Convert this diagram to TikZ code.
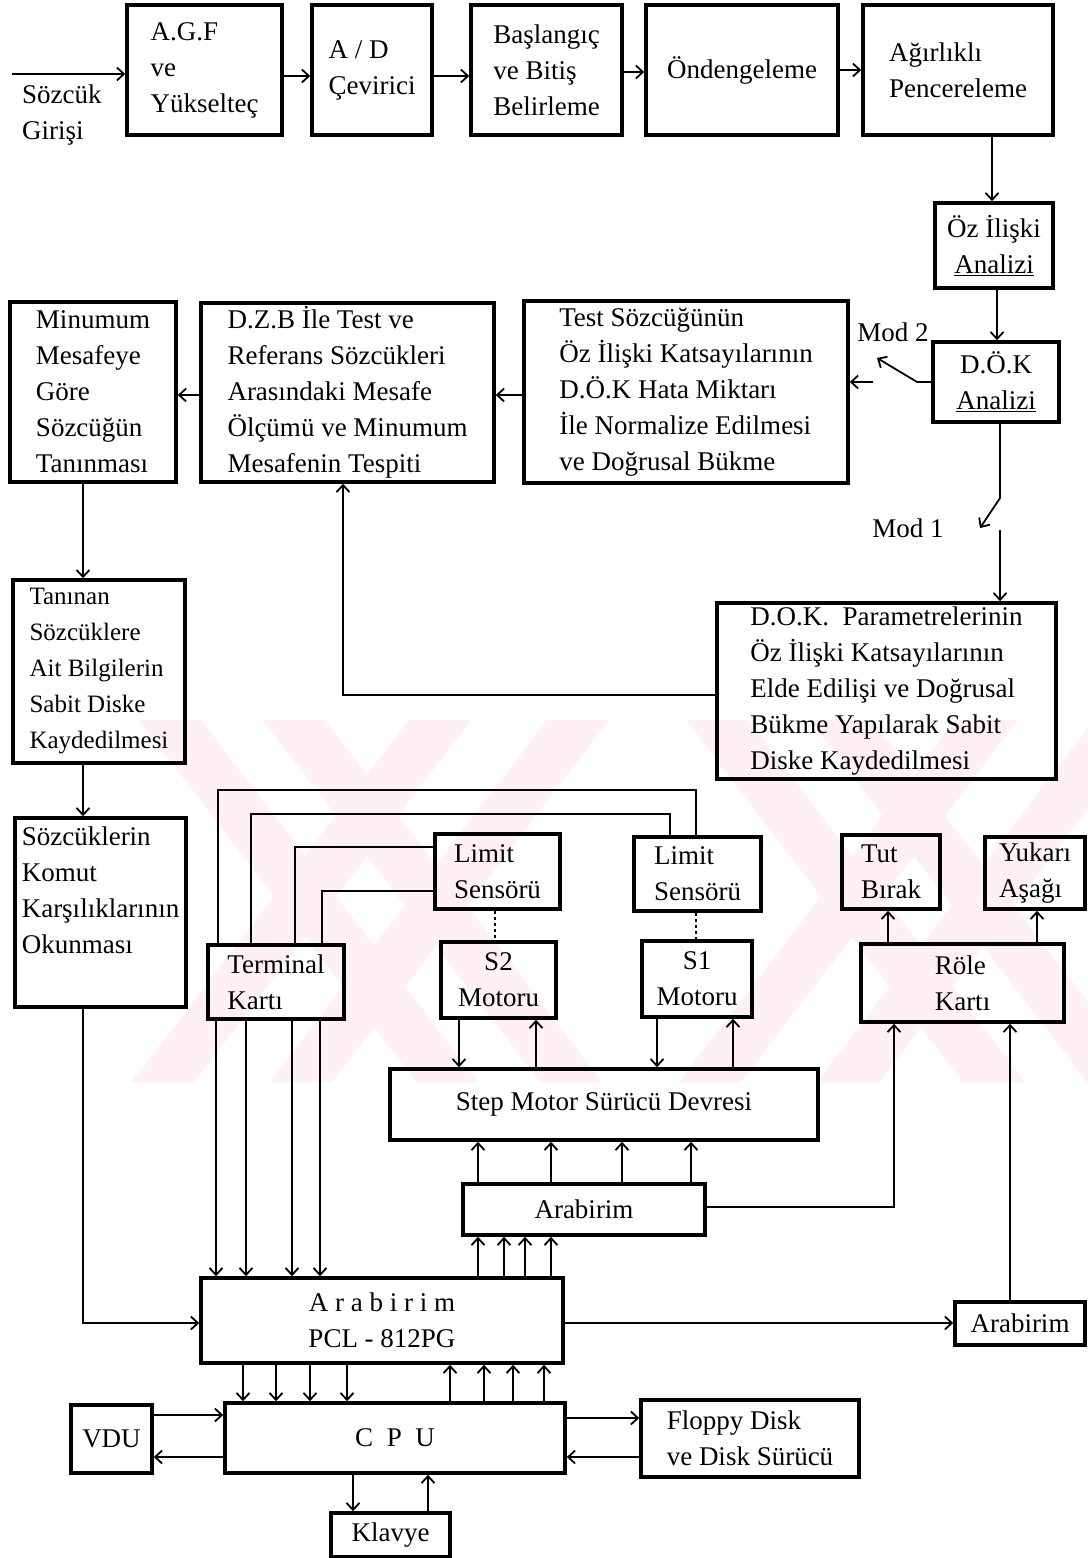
\documentclass[tikz,border=0pt]{standalone}
\usepackage{fontspec}
\setmainfont{Liberation Serif}
\usepackage{xcolor}
\usepackage{tikz}
\usetikzlibrary{arrows.meta}
\definecolor{filigran}{RGB}{254,240,243}

\begin{document}
\begin{tikzpicture}[x=1pt, y=-1pt, >={Straight Barb[length=7pt,width=13pt]},
    kutu/.style={draw, line width=3.6pt, inner sep=2pt, align=left, font=\fontsize{27}{36}\selectfont},
    yazi/.style={inner sep=0pt, align=left, font=\fontsize{27}{36}\selectfont},
    hat/.style={line width=1.8pt},
    ok/.style={hat, ->}]
    \useasboundingbox (0,0) rectangle (1087,1558);

    % 0. Filigran
    \foreach \a in {139,263,686,810}
        \fill[filigran] (\a,720) -- ++(62,0) -- ++(277,362) -- ++(-62,0) -- cycle;
    \foreach \b in {409,547,956,1094}
        \fill[filigran] (\b,720) -- ++(62,0) -- ++(-277,362) -- ++(-62,0) -- cycle;

    % 1. Ses isleme zinciri
    \node[kutu, minimum width=155, minimum height=130] (agf) at (204.5,70) {A.G.F\\ve\\Yükselteç};
    \node[kutu, minimum width=120, minimum height=130] (ad) at (372,70) {A / D\\Çevirici};
    \node[kutu, minimum width=151, minimum height=130] (basla) at (546.5,70) {Başlangıç\\ve Bitiş\\Belirleme};
    \node[kutu, minimum width=192, minimum height=130] (onden) at (742,70) {Öndengeleme};
    \node[kutu, minimum width=190, minimum height=130] (agirlik) at (958,70) {Ağırlıklı\\Pencereleme};
    \node[yazi, anchor=west] (girdi) at (22,115) {Sözcük\\Girişi};
    \coordinate (giris) at (12,74);

    \node[kutu, align=center, minimum width=118, minimum height=85] (oziliski) at (994,245.5) {Öz İlişki\\\underline{Analizi}};
    \node[kutu, align=center, minimum width=126, minimum height=80] (dok) at (996,382) {D.Ö.K\\\underline{Analizi}};
    \node[kutu, minimum width=324, minimum height=182] (test) at (686,392) {Test Sözcüğünün\\Öz İlişki Katsayılarının\\D.Ö.K Hata Miktarı\\İle Normalize Edilmesi\\ve Doğrusal Bükme};
    \node[kutu, minimum width=293, minimum height=179] (dzb) at (347.5,392.5) {D.Z.B İle Test ve\\Referans Sözcükleri\\Arasındaki Mesafe\\Ölçümü ve Minumum\\Mesafenin Tespiti};
    \node[kutu, minimum width=166, minimum height=180] (minmes) at (93,392) {Minumum\\Mesafeye\\Göre\\Sözcüğün\\Tanınması};
    \node[kutu, minimum width=339, minimum height=176] (param) at (886.5,691) {D.O.K. \ Parametrelerinin\\Öz İlişki Katsayılarının\\Elde Edilişi ve Doğrusal\\Bükme Yapılarak Sabit\\Diske Kaydedilmesi};
    \node[kutu, font=\fontsize{25}{36}\selectfont, minimum width=172, minimum height=183] (tanin) at (99,671.5) {Tanınan\\Sözcüklere\\Ait Bilgilerin\\Sabit Diske\\Kaydedilmesi};
    \node[kutu, minimum width=171, minimum height=189] (sozkomut) at (100.5,912.5) {Sözcüklerin\\Komut\\Karşılıklarının\\Okunması\\[8pt]};
    \node[yazi] (mod2) at (893,332) {Mod 2};
    \node[yazi] (mod1) at (908,528) {Mod 1};

    \draw[ok] (giris) -- (agf.west |- giris);
    \draw[ok] (agf.east |- 0,76) -- (ad.west |- 0,76);
    \draw[ok] (ad.east |- 0,76) -- (basla.west |- 0,76);
    \draw[ok] (basla.east |- 0,72) -- (onden.west |- 0,72);
    \draw[ok] (onden.east |- 0,70) -- (agirlik.west |- 0,70);
    \draw[ok] (992,0 |- agirlik.south) -- (992,0 |- oziliski.north);
    \draw[ok] (997,0 |- oziliski.south) -- (997,0 |- dok.north);

    % 2. Mod anahtarlari
    \draw[ok] (dok.west |- 0,382) -- (917,382) -- (877,358);
    \coordinate (m2) at (873,382);
    \draw[ok] (m2) -- (test.east |- m2);
    \draw[ok] (1000,0 |- dok.south) -- (1000,498) -- (980,528);
    \coordinate (m1) at (1000,530);
    \draw[ok] (m1) -- (param.north -| m1);
    \draw[ok] (param.west |- 0,695) -- (343,695) -- (343,0 |- dzb.south);
    \draw[ok] (test.west |- 0,395) -- (dzb.east |- 0,395);
    \draw[ok] (dzb.west |- 0,395) -- (minmes.east |- 0,395);
    \draw[ok] (83,0 |- minmes.south) -- (83,0 |- tanin.north);
    \draw[ok] (83,0 |- tanin.south) -- (83,0 |- sozkomut.north);

    % 3. Donanim
    \node[kutu, minimum width=136, minimum height=74] (terminal) at (276,982) {Terminal\\Kartı};
    \node[kutu, minimum width=125, minimum height=75] (limit2) at (497.5,871.5) {Limit\\Sensörü};
    \node[kutu, minimum width=127, minimum height=74] (limit1) at (697.5,874) {Limit\\Sensörü};
    \node[kutu, align=center, minimum width=115, minimum height=76] (motor2) at (498.5,980) {S2\\Motoru};
    \node[kutu, align=center, minimum width=110, minimum height=76] (motor1) at (697,979) {S1\\Motoru};
    \node[kutu, minimum width=98, minimum height=74] (tut) at (891,872) {Tut\\Bırak};
    \node[kutu, minimum width=100, minimum height=72] (yukari) at (1035,873) {Yukarı\\Aşağı};
    \node[kutu, minimum width=203, minimum height=78] (role) at (962.5,983) {Röle\\Kartı};
    \node[kutu, minimum width=428, minimum height=71] (surucu) at (604,1104.5) {Step Motor Sürücü Devresi};
    \node[kutu, minimum width=242, minimum height=51] (arab1) at (584,1209.5) {Arabirim};
    \node[kutu, align=center, minimum width=362, minimum height=85] (pcl) at (382,1320.5) {A r a b i r i m\\PCL - 812PG};
    \node[kutu, minimum width=130, minimum height=43] (arab3) at (1020,1323.5) {Arabirim};
    \node[kutu, minimum width=340, minimum height=70] (cpu) at (395,1438) {C \ P \ U};
    \node[kutu, minimum width=81, minimum height=68] (vdu) at (111.5,1439) {VDU};
    \node[kutu, minimum width=218, minimum height=77] (floppy) at (750,1438.5) {Floppy Disk\\ve Disk Sürücü};
    \node[kutu, minimum width=119, minimum height=44] (klavye) at (390.5,1535) {Klavye};

    \draw[hat] (218,0 |- terminal.north) -- (218,790) -- (696,790) -- (696,0 |- limit1.north);
    \draw[hat] (251,0 |- terminal.north) -- (251,814) -- (670,814) -- (670,0 |- limit1.north);
    \draw[hat] (295,0 |- terminal.north) -- (295,847) -- (limit2.west |- 0,847);
    \draw[hat] (322,0 |- terminal.north) -- (322,891) -- (limit2.west |- 0,891);
    \draw[hat, dashed] (495,0 |- limit2.south) -- (495,0 |- motor2.north);
    \draw[hat, dashed] (696,0 |- limit1.south) -- (696,0 |- motor1.north);

    \draw[ok] (459,0 |- motor2.south) -- (459,0 |- surucu.north);
    \draw[ok] (536,0 |- surucu.north) -- (536,0 |- motor2.south);
    \draw[ok] (657,0 |- motor1.south) -- (657,0 |- surucu.north);
    \draw[ok] (733,0 |- surucu.north) -- (733,0 |- motor1.south);
    \foreach \x in {478,551,622,691}
        \draw[ok] (\x,0 |- arab1.north) -- (\x,0 |- surucu.south);
    \draw[ok] (arab1.east |- 0,1207) -- (894,1207) -- (894,0 |- role.south);
    \draw[ok] (888,0 |- role.north) -- (888,0 |- tut.south);
    \draw[ok] (1037,0 |- role.north) -- (1037,0 |- yukari.south);
    \foreach \x in {478,504,525,551}
        \draw[ok] (\x,0 |- pcl.north) -- (\x,0 |- arab1.south);
    \foreach \x in {216,246,292,320}
        \draw[ok] (\x,0 |- terminal.south) -- (\x,0 |- pcl.north);
    \draw[ok] (83,0 |- sozkomut.south) -- (83,1323) -- (pcl.west |- 0,1323);
    \draw[ok] (pcl.east |- 0,1323) -- (arab3.west |- 0,1323);
    \draw[ok] (1010,0 |- arab3.north) -- (1010,0 |- role.south);

    % 4. CPU ve cevre birimleri
    \foreach \x in {243,276,310,347}
        \draw[ok] (\x,0 |- pcl.south) -- (\x,0 |- cpu.north);
    \foreach \x in {450,484,513,544}
        \draw[ok] (\x,0 |- cpu.north) -- (\x,0 |- pcl.south);
    \draw[ok] (vdu.east |- 0,1415) -- (cpu.west |- 0,1415);
    \draw[ok] (cpu.west |- 0,1457) -- (vdu.east |- 0,1457);
    \draw[ok] (cpu.east |- 0,1418) -- (floppy.west |- 0,1418);
    \draw[ok] (floppy.west |- 0,1457) -- (cpu.east |- 0,1457);
    \draw[ok] (353,0 |- cpu.south) -- (353,0 |- klavye.north);
    \draw[ok] (428,0 |- klavye.north) -- (428,0 |- cpu.south);
\end{tikzpicture}
\end{document}
